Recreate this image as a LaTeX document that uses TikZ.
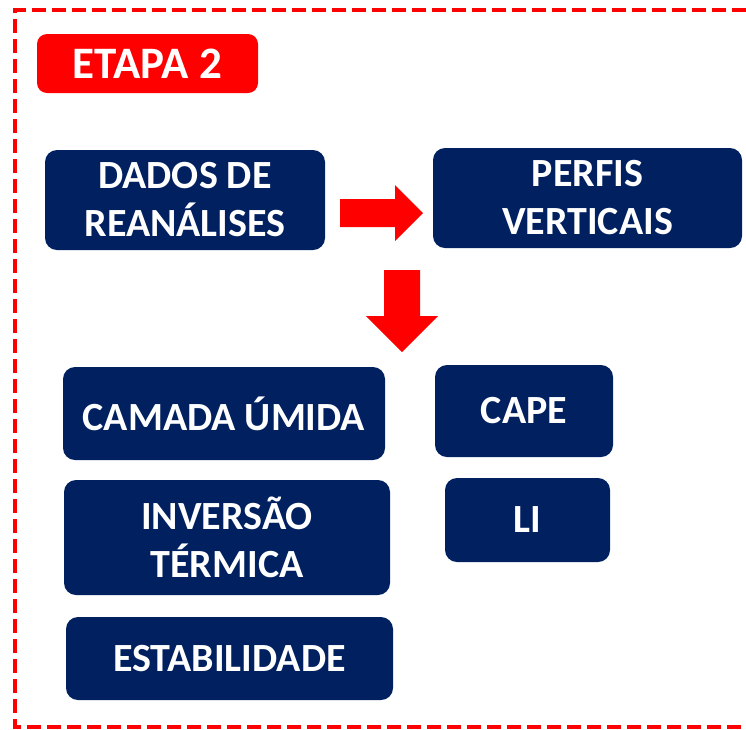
\documentclass[tikz,border=0pt]{standalone}
\usepackage{fontspec}
\setmainfont{Carlito}
\usepackage{tikz}

\definecolor{navy}{RGB}{0,32,96}
\definecolor{etapared}{RGB}{255,0,0}

\begin{document}
\begin{tikzpicture}[x=1pt, y=-1pt,
	box/.style={fill=navy, rounded corners=12pt, text=white, align=center, inner sep=0pt,
		font=\fontsize{40}{48}\selectfont\bfseries},
	tag/.style={fill=etapared, rounded corners=10pt, text=white, inner sep=0pt,
		font=\fontsize{45}{50}\selectfont\bfseries},
	blockarrow/.style={fill=etapared}]
	\useasboundingbox (0,0) rectangle (746,729);
	\draw[etapared, line width=3.5pt, dash pattern=on 14pt off 6pt] (746,10) -- (15,10) -- (15,727) -- (746,727);
	\node[tag, minimum width=221pt, minimum height=59pt] (etapa) at (147.5,63.5) {ETAPA 2};
	\node[box, minimum width=280pt, minimum height=100pt] (dados) at (185,200) {DADOS DE\\REAN\'ALISES};
	\node[box, minimum width=309pt, minimum height=100pt] (perfis) at (587.5,198) {PERFIS\\VERTICAIS};
	\node[box, minimum width=322pt, minimum height=93pt] (camada) at (224,413.5) {CAMADA \'UMIDA};
	\node[box, minimum width=178pt, minimum height=92pt] (cape) at (524,411) {CAPE};
	\node[box, minimum width=326pt, minimum height=115pt] (inversao) at (227,537.5) {INVERS\~AO\\T\'ERMICA};
	\node[box, minimum width=165pt, minimum height=84pt] (li) at (527.5,520) {LI};
	\node[box, minimum width=327pt, minimum height=83pt] (estab) at (229.5,658.5) {ESTABILIDADE};
	% block arrows
	\fill[blockarrow] (340,199) -- (395,199) -- (395,185) -- (423,213) -- (395,241) -- (395,227) -- (340,227) -- cycle;
	\fill[blockarrow] (384,270) -- (420,270) -- (420,316) -- (438,316) -- (402,352) -- (366,316) -- (384,316) -- cycle;
\end{tikzpicture}
\end{document}
